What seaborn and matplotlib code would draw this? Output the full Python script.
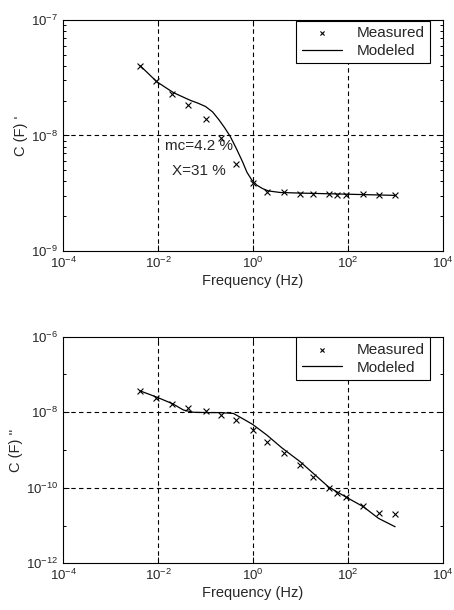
import numpy as np
import pandas as pd
import matplotlib
matplotlib.use("Agg")
import matplotlib.pyplot as plt
import matplotlib.ticker as mticker
import seaborn as sns

# ---- data ----
freq_meas = [0.0042, 0.0092, 0.02, 0.042, 0.1, 0.21, 0.44, 1.0, 2.0, 4.4, 9.5,
             18, 39, 58, 89, 210, 440, 980]
c_real_meas = [4.0e-8, 2.96e-8, 2.3e-8, 1.84e-8, 1.39e-8, 9.5e-9, 5.7e-9, 3.85e-9,
               3.22e-9, 3.2e-9, 3.1e-9, 3.1e-9, 3.08e-9, 3.07e-9, 3.05e-9, 3.08e-9,
               3.03e-9, 3.02e-9]
c_imag_meas = [3.67e-8, 2.45e-8, 1.69e-8, 1.28e-8, 1.08e-8, 8.5e-9, 6.1e-9, 3.3e-9,
               1.6e-9, 8.2e-10, 4.0e-10, 1.96e-10, 1.0e-10, 7.4e-11, 5.6e-11, 3.3e-11,
               2.1e-11, 1.97e-11]

freq_model_real = [0.0042, 0.0094, 0.021, 0.047, 0.07, 0.1, 0.14, 0.19, 0.25, 0.33,
                   0.45, 0.6, 0.74, 0.94, 1.2, 1.6, 2.1, 3.7, 10, 100, 980]
c_real_model = [4.02e-8, 2.92e-8, 2.35e-8, 2.02e-8, 1.9e-8, 1.78e-8, 1.6e-8, 1.37e-8,
                1.17e-8, 9.8e-9, 7.6e-9, 5.9e-9, 4.8e-9, 4.1e-9, 3.7e-9, 3.45e-9,
                3.3e-9, 3.2e-9, 3.16e-9, 3.09e-9, 3.02e-9]

freq_model_imag = [0.0042, 0.0091, 0.020, 0.034, 0.055, 0.106, 0.2, 0.385, 0.6, 0.97,
                   1.94, 4.0, 9.8, 38.5, 89, 209, 437, 977]
c_imag_model = [3.67e-8, 2.55e-8, 1.69e-8, 1.15e-8, 1.0e-8, 9.8e-9, 9.8e-9, 9.3e-9,
                6.8e-9, 4.8e-9, 2.5e-9, 1.15e-9, 4.9e-10, 1.06e-10, 5.75e-11,
                3.16e-11, 1.55e-11, 9.3e-12]

x_label = "Frequency (Hz)"
y_labels = ["C (F) '", "C (F) ''"]
legend_labels = ["Measured", "Modeled"]
annotations = ["mc=4.2 %", "X=31 %"]

# ---- style ----
sns.set_theme(style="ticks")
plt.rcParams["font.family"] = ["Liberation Sans", "DejaVu Sans"]
plt.rcParams["mathtext.fontset"] = "custom"
plt.rcParams["mathtext.rm"] = "Liberation Sans"
plt.rcParams["mathtext.it"] = "Liberation Sans"

fig = plt.figure(figsize=(4.54, 6.10), dpi=100)
ax1 = fig.add_axes([0.139, 0.589, 0.837, 0.378])
ax2 = fig.add_axes([0.139, 0.0765, 0.837, 0.3715])

panels = [
    (ax1, freq_meas, c_real_meas, freq_model_real, c_real_model, (1e-9, 1e-7),
     [1e-9, 1e-8, 1e-7], [1e-8]),
    (ax2, freq_meas, c_imag_meas, freq_model_imag, c_imag_model, (1e-12, 1e-6),
     [1e-12, 1e-10, 1e-8, 1e-6], [1e-10, 1e-8]),
]

for i, (ax, fm, cm, fmod, cmod, ylim, yticks, hgrid) in enumerate(panels):
    df_m = pd.DataFrame({"f": fm, "c": cm})
    df_l = pd.DataFrame({"f": fmod, "c": cmod})
    ax.set_xscale("log")
    ax.set_yscale("log")
    sns.lineplot(data=df_l, x="f", y="c", ax=ax, color="black", lw=0.9,
                 label=legend_labels[1], sort=False, zorder=3)
    sns.scatterplot(data=df_m, x="f", y="c", ax=ax, marker="x", color="black",
                    s=18, linewidth=0.8, label=legend_labels[0], zorder=4)
    ax.set_xlim(1e-4, 1e4)
    ax.set_ylim(*ylim)
    ax.set_xticks([1e-4, 1e-2, 1e0, 1e2, 1e4])
    ax.xaxis.set_minor_locator(mticker.NullLocator())
    ax.set_yticks(yticks)
    if i == 0:
        ax.yaxis.set_minor_locator(mticker.LogLocator(base=10, subs=np.arange(2, 10)))
    else:
        ax.yaxis.set_minor_locator(mticker.FixedLocator([1e-11, 1e-9, 1e-7]))
    ax.yaxis.set_minor_formatter(mticker.NullFormatter())
    for xv in [1e-2, 1e0, 1e2]:
        ax.axvline(xv, color="black", ls=(0, (4, 3)), lw=0.8, zorder=1)
    for yv in hgrid:
        ax.axhline(yv, color="black", ls=(0, (4, 3)), lw=0.8, zorder=1)
    ax.tick_params(which="both", direction="in", top=True, right=True,
                   labelsize=9.5, color="black", width=0.7)
    ax.tick_params(which="major", length=4)
    ax.tick_params(which="minor", length=2)
    for sp in ax.spines.values():
        sp.set_color("black")
        sp.set_linewidth(0.8)
    ax.set_xlabel(x_label, fontsize=10.5, labelpad=2)
    ax.set_ylabel(y_labels[i], fontsize=10.5, labelpad=2)
    handles, labels = ax.get_legend_handles_labels()
    order = [labels.index(legend_labels[0]), labels.index(legend_labels[1])]
    leg = ax.legend([handles[j] for j in order], [labels[j] for j in order],
                    loc="upper right", bbox_to_anchor=(0.966, 0.997),
                    fontsize=11, frameon=True, fancybox=False,
                    edgecolor="black", framealpha=1, borderaxespad=0.0,
                    handlelength=2.6, borderpad=0.35, labelspacing=0.25,
                    handletextpad=1.0, markerscale=0.7)
    leg.get_frame().set_linewidth(0.8)

ax1.text(0.014, 8.1e-9, annotations[0], fontsize=11, ha="left", va="center")
ax1.text(0.0197, 4.9e-9, annotations[1], fontsize=11, ha="left", va="center")

fig.savefig("out.png", dpi=100, facecolor="white")
